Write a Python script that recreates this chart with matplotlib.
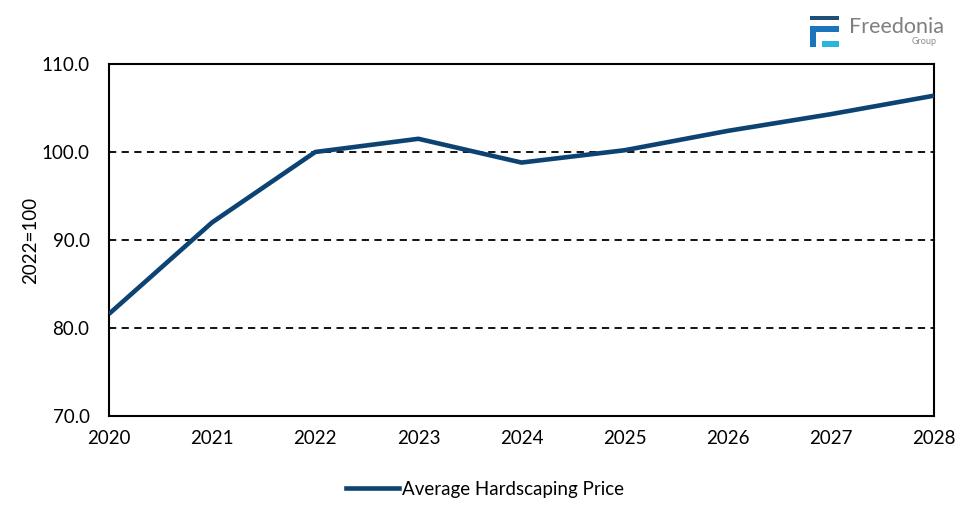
import matplotlib
matplotlib.use("Agg")
import matplotlib.pyplot as plt
from matplotlib.patches import Rectangle

years = [2020, 2021, 2022, 2023, 2024, 2025, 2026, 2027, 2028]
price = [81.6, 92.0, 100.0, 101.5, 98.8, 100.2, 102.4, 104.3, 106.4]
yticks = [70.0, 80.0, 90.0, 100.0, 110.0]
series_name = "Average Hardscaping Price"
ylabel = "2022=100"

plt.rcParams['font.family'] = ['Lato', 'DejaVu Sans']

W, H = 973, 524
fig = plt.figure(figsize=(W/100, H/100), dpi=100)
ax = fig.add_axes([109/W, 1-416/H, (934-109)/W, (416-64)/H])

LC = '#0D4373'
ax.plot(years, price, color=LC, lw=3.3, solid_capstyle='butt', zorder=3)
ax.set_xlim(2020, 2028)
ax.set_ylim(70, 110)
ax.set_yticks(yticks)
ax.set_yticklabels([f"{v:.1f}" for v in yticks], fontsize=13.5)
ax.set_xticks(years)
ax.set_xticklabels([str(y) for y in years], fontsize=13.5)
ax.tick_params(axis='y', length=0, pad=14)
ax.tick_params(axis='x', length=0, pad=10)
for v in yticks[1:-1]:
    ax.axhline(v, color='black', lw=1.3, ls=(0, (4, 3)), zorder=1)
for s in ax.spines.values():
    s.set_linewidth(1.5)
    s.set_color('black')
ax.set_ylabel(ylabel, fontsize=13.5)
ax.yaxis.set_label_coords(-(109-39)/(934-109), 0.5)

leg = fig.legend([plt.Line2D([], [], color=LC, lw=3.3)], [series_name],
                 loc='center', bbox_to_anchor=(485/W, 1-489/H), frameon=False,
                 fontsize=13.5, handlelength=2.8, handletextpad=0.15)

# Logo
def rect(x0, y0, x1, y1, c):
    fig.patches.append(Rectangle((x0/W, 1-y1/H), (x1-x0)/W, (y1-y0)/H,
                                 transform=fig.transFigure, color=c, lw=0))
rect(810, 16, 839, 20, '#1F4E79')
rect(810, 26, 839, 32, '#1B75BC')
rect(810, 26, 816, 47, '#1B75BC')
rect(822, 41, 839, 47, '#29B6D9')
fig.text(849/W, 1-33/H, "Freedonia", fontsize=15.5, color='#7F7F7F', ha='left', va='baseline')
fig.text(937/W, 1-44/H, "Group", fontsize=6.5, color='#8C8C8C', ha='right', va='baseline')

fig.savefig("out.png", dpi=100)
